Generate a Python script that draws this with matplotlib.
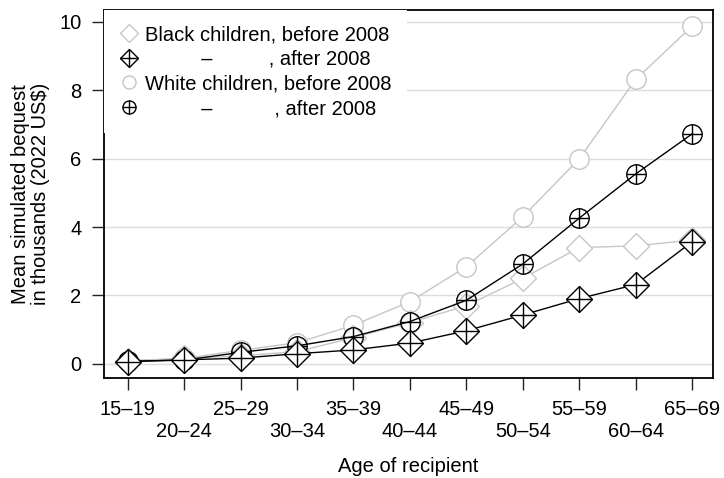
import matplotlib.pyplot as plt
from matplotlib.lines import Line2D

plt.rcParams['font.family'] = ['Liberation Sans', 'DejaVu Sans']

ages = ['15–19', '20–24', '25–29', '30–34', '35–39', '40–44',
        '45–49', '50–54', '55–59', '60–64', '65–69']
black_before = [0.08, 0.16, 0.24, 0.36, 0.77, 1.21, 1.70, 2.50, 3.40, 3.45, 3.62]
black_after = [0.07, 0.12, 0.17, 0.30, 0.41, 0.61, 0.97, 1.43, 1.91, 2.32, 3.57]
white_before = [0.10, 0.16, 0.40, 0.62, 1.13, 1.82, 2.84, 4.30, 5.99, 8.31, 9.87]
white_after = [0.08, 0.11, 0.34, 0.53, 0.80, 1.24, 1.86, 2.92, 4.26, 5.55, 6.72]

grey = '#c6c6c6'
fs = 14.5
x = list(range(len(ages)))

fig = plt.figure(figsize=(7.24, 4.78), dpi=100)
ax = fig.add_axes([0.1436, 0.2092, 0.8412, 0.7699])

for v in [0, 2, 4, 6, 8, 10]:
    ax.axhline(v, color='#dddddd', lw=1, zorder=0)

# before 2008 (grey open markers)
ax.plot(x, white_before, color=grey, lw=1, marker='o', ms=14,
        mfc='white', mec=grey, mew=1, zorder=2)
ax.plot(x, black_before, color=grey, lw=1, marker='D', ms=13.5,
        mfc='white', mec=grey, mew=1, zorder=2)

# after 2008 (black markers with cross)
ax.plot(x, white_after, color='black', lw=1, marker='o', ms=14,
        mfc='none', mec='black', mew=1, zorder=3)
ax.plot(x, white_after, ls='none', marker='+', ms=14, mec='black', mew=1, zorder=3)
ax.plot(x, black_after, color='black', lw=1, marker='D', ms=13.5,
        mfc='white', mec='black', mew=1, zorder=4)
ax.plot(x, black_after, ls='none', marker='+', ms=19, mec='black', mew=1, zorder=4)

ax.set_xlim(-0.42, 10.37)
ax.set_ylim(-0.41, 10.34)
ax.set_yticks([0, 2, 4, 6, 8, 10])
ax.set_xticks(x)
ax.set_xticklabels([a if i % 2 == 0 else '\n' + a for i, a in enumerate(ages)])
ax.tick_params(labelsize=fs, length=8.6, width=1, color='#222222', pad=7.5)
for s in ax.spines.values():
    s.set_linewidth(1.3)

ax.set_xlabel('Age of recipient', fontsize=fs, labelpad=11)
ax.set_ylabel('Mean simulated bequest\nin thousands (2022 US\\$)', fontsize=fs,
              labelpad=7, linespacing=1.05)

h1 = Line2D([], [], ls='none', marker='D', ms=9.2, mfc='white', mec=grey)
h2 = (Line2D([], [], ls='none', marker='D', ms=9.2, mfc='white', mec='black'),
      Line2D([], [], ls='none', marker='+', ms=13, mec='black'))
h3 = Line2D([], [], ls='none', marker='o', ms=9.4, mfc='white', mec=grey)
h4 = (Line2D([], [], ls='none', marker='o', ms=9.4, mfc='white', mec='black'),
      Line2D([], [], ls='none', marker='+', ms=9.4, mec='black'))
labels = ['Black children, before 2008',
          '          –          , after 2008',
          'White children, before 2008',
          '          –           , after 2008']
leg = ax.legend([h1, h2, h3, h4], labels, loc='upper left', fontsize=fs,
                frameon=True, fancybox=False, edgecolor='none', facecolor='white',
                framealpha=1, borderaxespad=0, handlelength=1.0,
                handletextpad=0.3, labelspacing=0.28, borderpad=0.75)

fig.savefig('out.png', dpi=100)
